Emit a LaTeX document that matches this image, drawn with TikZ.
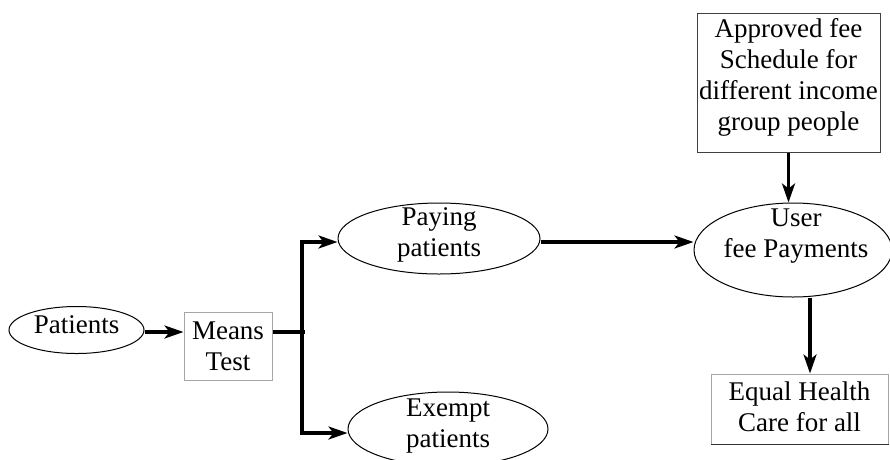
\documentclass[tikz,border=0pt]{standalone}
\usepackage{fontspec}
\setmainfont{Liberation Serif}
\usetikzlibrary{shapes.geometric,arrows.meta}
\begin{document}
\begin{tikzpicture}[x=1pt,y=-1pt,
  txt/.style={font=\fontsize{27}{31}\selectfont, align=center, inner sep=0pt},
  oval/.style={draw=black, line width=1pt, ellipse, inner sep=0pt, txt},
  boxa/.style={draw=black!75, line width=1pt, rectangle, inner sep=0pt, txt},
  boxg/.style={draw=black!35, line width=1pt, rectangle, inner sep=0pt, txt},
  arr/.style={line width=3.2pt, -{Stealth[length=19pt,width=13pt,inset=5pt]}},
  ln/.style={line width=3.2pt}
]
\useasboundingbox (0,0) rectangle (890,459);
\begin{scope}
\clip (0,0) rectangle (890,459);
% nodes
\node[oval, minimum width=135pt, minimum height=47pt] (pat) at (76.5,330) {};
\node[txt] (patt) at (76.5,325) {Patients};
\node[boxg, minimum width=88pt, minimum height=68pt] (means) at (228,346) {Means\\Test};
\node[oval, minimum width=202pt, minimum height=71pt] (pay) at (439,238.5) {};
\node[txt] (payt) at (439,235) {Paying\\patients};
\node[oval, minimum width=200pt, minimum height=74pt] (ex) at (448,429) {};
\node[txt] (ext) at (448,426) {Exempt\\patients};
\node[oval, minimum width=198pt, minimum height=94pt] (user) at (793,250) {};
\node[txt] (usert) at (796,236) {User\\fee Payments};
\node[boxa, minimum width=183pt, minimum height=139pt] (appr) at (788.5,82.5) {};
\node[txt] (apprt) at (788.5,77.5) {Approved fee\\Schedule for\\different income\\group people};
\node[boxg, minimum width=177pt, minimum height=70pt] (eq) at (799.5,409) {};
\node[txt] (eqt) at (799.5,407) {Equal Health\\Care for all};
\draw[black!80, line width=1pt] (eq.south west) -- (eq.south east);
% connectors
\coordinate (jt) at (302,242);
\coordinate (jb) at (302,433);
\coordinate (jm) at (305,332);
\draw[arr] ([yshift=-2pt]pat.east) -- ([yshift=14pt]means.west);
\draw[ln] ([yshift=14pt]means.east) -- (jm);
\draw[ln, line cap=rect] (jt) -- (jb);
\draw[arr] (jt) -- (jt -| pay.west);
\draw[arr] (jb) -- (jb -| ex.west);
\draw[arr] (pay.east |- jt) -- (jt -| user.west);
\draw[arr] (appr.south) -- (appr.south |- user.north);
\draw[arr] ([xshift=17pt]user.south) -- ([xshift=17pt]user.south |- eq.north);
\end{scope}
\end{tikzpicture}
\end{document}
